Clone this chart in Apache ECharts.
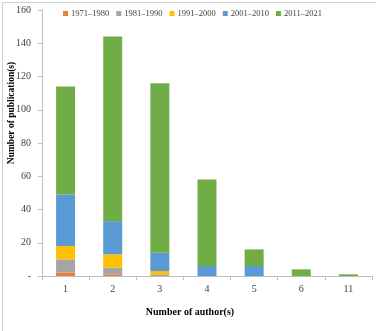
<!DOCTYPE html>
<html><head><meta charset="utf-8">
<script src="https://cdn.jsdelivr.net/npm/echarts@6/dist/echarts.min.js"></script>
<style>html,body{margin:0;padding:0;background:#fff}#c{width:376px;height:331px}</style>
</head><body><div id="c"></div>
<script>
var categories = ['1','2','3','4','5','6','11'];
var seriesNames = ['1971\u20131980','1981\u20131990','1991\u20132000','2001\u20132010','2011\u20132021'];
var s1971 = [2, 1, 0, 0, 0, 0, 0];
var s1981 = [8, 4, 1, 0, 0, 0, 0];
var s1991 = [8, 8, 2, 0, 0, 0, 0];
var s2001 = [31, 20, 11, 6, 6, 0, 0];
var s2011 = [65, 111, 102, 52, 10, 4, 1];
var yTicks = [0, 20, 40, 60, 80, 100, 120, 140, 160];
var colors = ['#ED7D31','#A5A5A5','#FFC000','#5B9BD5','#70AD47'];
var values = [s1971, s1981, s1991, s2001, s2011];

var font = 'Liberation Serif, Times New Roman, serif';
var chart = echarts.init(document.getElementById('c'), null, {renderer:'canvas'});
chart.setOption({
  animation: false,
  textStyle: {fontFamily: font},
  graphic: [
    {type:'rect', left:0, top:0, shape:{x:0.5,y:0.5,width:375,height:330}, style:{fill:'none', stroke:'#d0d0d0', lineWidth:1}, silent:true},
    {type:'text', x:190, y:312, style:{text:'Number of author(s)', font:'bold 10px ' + font, fill:'#000', align:'center', verticalAlign:'middle'}, silent:true},
    {type:'text', x:12, y:113, rotation:Math.PI/2, style:{text:'Number of publication(s)', font:'bold 9.5px ' + font, fill:'#000', align:'center', verticalAlign:'middle'}, silent:true}
  ],
  legend: {
    top: 4, left: 58, itemWidth: 5, itemHeight: 5, itemGap: 7, icon: 'rect',
    textStyle: {fontFamily: font, fontSize: 8.5, color: '#404040', padding:[0,0,0,-2]},
    data: seriesNames
  },
  grid: {left: 42, right: 4, top: 10, bottom: 55},
  xAxis: {
    type: 'category', data: categories,
    axisLine: {lineStyle: {color: '#bfbfbf'}},
    axisTick: {show: true, length: 4, lineStyle: {color: '#bfbfbf'}},
    axisLabel: {color: '#404040', fontSize: 10, fontFamily: font, margin: 8}
  },
  yAxis: {
    type: 'value', min: 0, max: 160, interval: 20,
    axisLine: {show: true, lineStyle: {color: '#bfbfbf'}},
    axisTick: {show: true, length: 4, lineStyle: {color: '#bfbfbf'}},
    splitLine: {show: false},
    axisLabel: {color: '#404040', fontSize: 10, fontFamily: font, margin: 11,
      formatter: function(v){ return yTicks.indexOf(v) >= 0 ? (v === 0 ? '-' : String(v)) : ''; }}
  },
  series: seriesNames.map(function(n, i){
    return {name: n, type: 'bar', stack: 'total', barWidth: 19, data: values[i],
      itemStyle: {color: colors[i]}};
  })
});
</script></body></html>
